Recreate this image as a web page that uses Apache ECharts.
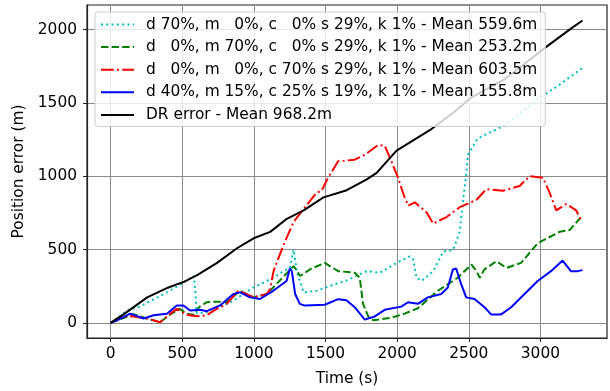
<!DOCTYPE html>
<html>
<head>
<meta charset="utf-8">
<script src="https://cdn.jsdelivr.net/npm/echarts@6/dist/echarts.min.js"></script>
<style>
  html, body { margin: 0; padding: 0; background: #fff; }
  #chart { width: 610px; height: 391px; }
</style>
</head>
<body>
<div id="chart"></div>
<script>
// legend labels
const labels = [
  'd 70%, m   0%, c   0% s 29%, k 1% - Mean 559.6m',
  'd   0%, m 70%, c   0% s 29%, k 1% - Mean 253.2m',
  'd   0%, m   0%, c 70% s 29%, k 1% - Mean 603.5m',
  'd 40%, m 15%, c 25% s 19%, k 1% - Mean 155.8m',
  'DR error - Mean 968.2m'
];

// tick values
const xTicks = [0, 500, 1000, 1500, 2000, 2500, 3000];
const yTicks = [0, 500, 1000, 1500, 2000];

// [time (s), position error (m)]
const cyanD70 = [
  [0, 0], [116, 85], [200, 110], [372, 197], [500, 270], [581, 320], [592, 200], [601, 63],
  [650, 70], [717, 85], [857, 152], [996, 241], [1135, 308], [1207, 353], [1251, 375],
  [1277, 498], [1300, 350], [1347, 208], [1439, 219], [1532, 253], [1648, 290], [1788, 353],
  [1880, 342], [1996, 409], [2089, 454], [2112, 432], [2136, 308], [2171, 286], [2252, 353],
  [2322, 487], [2391, 498], [2437, 621], [2461, 845], [2484, 1023], [2493, 1146],
  [2563, 1258], [2749, 1347], [2981, 1526], [3120, 1615], [3294, 1739]
];

const greenM70 = [
  [0, 0], [80, 30], [160, 60], [250, 30], [346, 5], [420, 60], [480, 95], [540, 60],
  [580, 55], [620, 110], [671, 141], [743, 145], [811, 141], [903, 219], [998, 174],
  [1089, 195], [1182, 290], [1277, 387], [1323, 320], [1400, 370], [1495, 409], [1588, 353],
  [1704, 342], [1739, 308], [1762, 130], [1800, 40], [1834, 18], [1960, 35], [2052, 63],
  [2145, 100], [2284, 219], [2423, 308], [2519, 398], [2554, 353], [2577, 308], [2609, 365],
  [2693, 420], [2763, 375], [2865, 409], [2981, 543], [3134, 621], [3204, 633], [3294, 733]
];

const redC70 = [
  [0, 0], [68, 40], [150, 45], [253, 30], [346, 5], [400, 50], [462, 96], [532, 55],
  [600, 45], [671, 52], [740, 95], [811, 130], [891, 219], [998, 174], [1089, 197],
  [1114, 230], [1137, 353], [1207, 532], [1277, 688], [1347, 777], [1439, 889], [1472, 900],
  [1518, 990], [1588, 1102], [1704, 1113], [1774, 1146], [1867, 1213], [1913, 1209],
  [1960, 1102], [2006, 990], [2052, 856], [2078, 800], [2124, 822], [2205, 755], [2252, 677],
  [2298, 700], [2345, 722], [2437, 789], [2554, 840], [2623, 912], [2740, 901], [2855, 934],
  [2925, 1001], [3018, 990], [3064, 889], [3111, 767], [3180, 811], [3250, 767], [3285, 700]
];

const blueMix = [
  [0, 0], [60, 25], [137, 63], [230, 30], [300, 52], [393, 63], [462, 119], [508, 119],
  [555, 85], [625, 90], [671, 80], [764, 119], [857, 197], [903, 208], [973, 174],
  [1043, 163], [1135, 219], [1228, 286], [1251, 371], [1265, 353], [1288, 197], [1321, 130],
  [1355, 118], [1495, 124], [1588, 162], [1646, 155], [1704, 107], [1774, 22], [1844, 44],
  [1913, 89], [2029, 111], [2076, 141], [2145, 130], [2214, 174], [2308, 197], [2354, 241],
  [2389, 364], [2412, 371], [2447, 264], [2482, 174], [2540, 163], [2610, 107], [2656, 58],
  [2726, 58], [2796, 107], [2981, 286], [3074, 353], [3155, 425], [3213, 353], [3260, 353],
  [3294, 360]
];

const drError = [
  [0, 0], [100, 65], [255, 174], [400, 240], [465, 264], [511, 280], [604, 326], [743, 409],
  [882, 509], [998, 577], [1114, 621], [1230, 710], [1347, 767], [1486, 856], [1648, 905],
  [1788, 979], [1857, 1023], [1996, 1175], [2228, 1314], [2400, 1440], [2517, 1537],
  [2749, 1660], [3027, 1872], [3213, 2007], [3294, 2062]
];

const FONT = 'DejaVu Sans';
const FS = 15.4;
const chart = echarts.init(document.getElementById('chart'), null, { renderer: 'canvas' });

function line(name, data, color, type) {
  return {
    name: name,
    type: 'line',
    data: data,
    showSymbol: false,
    symbol: 'none',
    lineStyle: { color: color, width: 2, type: type, cap: 'butt' },
    itemStyle: { color: color },
    z: 2
  };
}

const axisText = { color: '#000', fontFamily: FONT, fontSize: FS };
const plain = v => String(v);

chart.setOption({
  animation: false,
  textStyle: { fontFamily: FONT },
  grid: {
    left: 87, right: 3, top: 5, bottom: 48,
    show: true, borderColor: '#222', borderWidth: 1.2, backgroundColor: 'transparent'
  },
  legend: {
    orient: 'vertical',
    left: 95, top: 12,
    padding: [5, 8, 4, 5],
    itemWidth: 33, itemHeight: 12, itemGap: 7.6,
    // hide the marker drawn in the middle of each legend line
    itemStyle: { color: 'transparent', borderColor: 'transparent', borderWidth: 0 },
    backgroundColor: 'rgba(255,255,255,0.8)',
    borderColor: '#cccccc', borderWidth: 1, borderRadius: 3,
    textStyle: { color: '#000', fontFamily: FONT, fontSize: FS, padding: [0, 0, 0, 7] },
    data: labels
  },
  xAxis: {
    type: 'value',
    min: -165, max: 3465, splitNumber: 7,
    name: 'Time (s)', nameLocation: 'middle', nameGap: 33,
    nameTextStyle: axisText,
    axisLine: { show: true, onZero: false, lineStyle: { color: '#222', width: 1.2 } },
    axisTick: { show: true, length: 4, customValues: xTicks, lineStyle: { color: '#222' } },
    axisLabel: Object.assign({ margin: 8, customValues: xTicks, formatter: plain }, axisText),
    splitLine: { show: true, lineStyle: { color: '#8a8a8a', width: 1 } }
  },
  yAxis: {
    type: 'value',
    min: -103, max: 2168, splitNumber: 5,
    name: 'Position error (m)', nameLocation: 'middle', nameGap: 52,
    nameTextStyle: axisText,
    axisLine: { show: true, onZero: false, lineStyle: { color: '#222', width: 1.2 } },
    axisTick: { show: true, length: 4, customValues: yTicks, lineStyle: { color: '#222' } },
    axisLabel: Object.assign({ margin: 10, customValues: yTicks, formatter: plain }, axisText),
    splitLine: { show: true, lineStyle: { color: '#8a8a8a', width: 1 } }
  },
  series: [
    line(labels[0], cyanD70, '#00bfbf', [2, 3.3]),
    line(labels[1], greenM70, '#008000', [7.4, 3.2]),
    line(labels[2], redC70, '#ff0000', [12.8, 3.2, 2, 3.2]),
    line(labels[3], blueMix, '#0000ff', 'solid'),
    line(labels[4], drError, '#000000', 'solid')
  ]
});

window.addEventListener('resize', () => chart.resize());
</script>
</body>
</html>
